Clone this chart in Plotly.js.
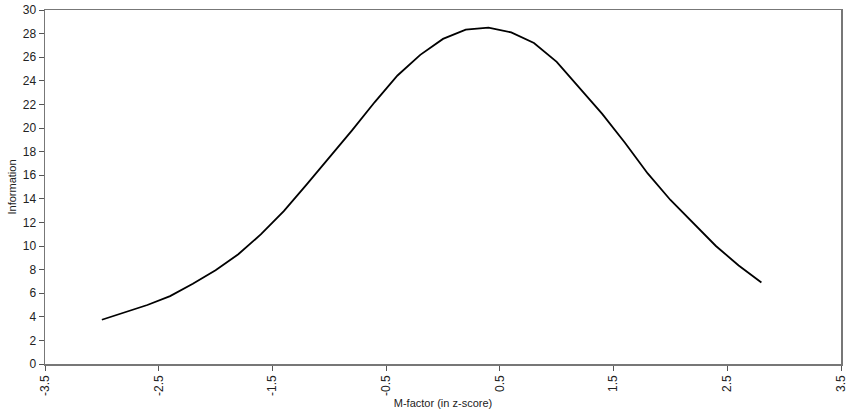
<!DOCTYPE html>
<html>
<head>
<meta charset="utf-8">
<script src="https://cdn.plot.ly/plotly-3.0.1.min.js"></script>
<style>html,body{margin:0;padding:0;background:#fff;}#chart{width:851px;height:409px;}</style>
</head>
<body>
<div id="chart"></div>
<script>
const zScores = [-3.0, -2.8, -2.6, -2.4, -2.2, -2.0, -1.8, -1.6, -1.4, -1.2, -1.0, -0.8, -0.6, -0.4, -0.2, 0.0, 0.2, 0.4, 0.6, 0.8, 1.0, 1.2, 1.4, 1.6, 1.8, 2.0, 2.2, 2.4, 2.6, 2.8];
const information = [3.75, 4.35, 5.0, 5.75, 6.8, 7.95, 9.3, 11.0, 12.95, 15.2, 17.5, 19.8, 22.2, 24.45, 26.2, 27.55, 28.33, 28.5, 28.1, 27.2, 25.6, 23.43, 21.2, 18.75, 16.15, 13.9, 11.95, 10.0, 8.35, 6.9];
const xTicks = [-3.5, -2.5, -1.5, -0.5, 0.5, 1.5, 2.5, 3.5];
const yTicks = [0, 2, 4, 6, 8, 10, 12, 14, 16, 18, 20, 22, 24, 26, 28, 30];

const font = {family: 'Arial, "Liberation Sans", sans-serif', size: 11, color: '#222'};
const tickFont = {family: 'Arial, "Liberation Sans", sans-serif', size: 12, color: '#222'};
const data = [{
  x: zScores, y: information, type: 'scatter', mode: 'lines',
  line: {color: '#000', width: 1.8}, hoverinfo: 'skip'
}];
const layout = {
  width: 851, height: 409,
  margin: {l: 45, r: 10, t: 10, b: 45},
  paper_bgcolor: '#fff', plot_bgcolor: '#fff',
  showlegend: false, font: font,
  xaxis: {
    range: [-3.5, 3.5], tickvals: xTicks, ticktext: xTicks.map(String),
    tickangle: -90, ticks: 'outside', ticklen: 5, tickcolor: '#555', tickwidth: 1,
    showline: true, linecolor: '#777', linewidth: 1.5, mirror: true,
    showgrid: false, zeroline: false, tickfont: tickFont,
    title: {text: 'M-factor (in z-score)', font: font, standoff: 4}
  },
  yaxis: {
    range: [0, 30], tickvals: yTicks, ticktext: yTicks.map(String),
    ticks: 'outside', ticklen: 5, tickcolor: '#555', tickwidth: 1,
    showline: true, linecolor: '#777', linewidth: 1.5, mirror: true,
    showgrid: false, zeroline: false, tickfont: tickFont,
    title: {text: 'Information', font: font, standoff: 4}
  }
};
Plotly.newPlot('chart', data, layout, {staticPlot: true, displayModeBar: false});
</script>
</body>
</html>
